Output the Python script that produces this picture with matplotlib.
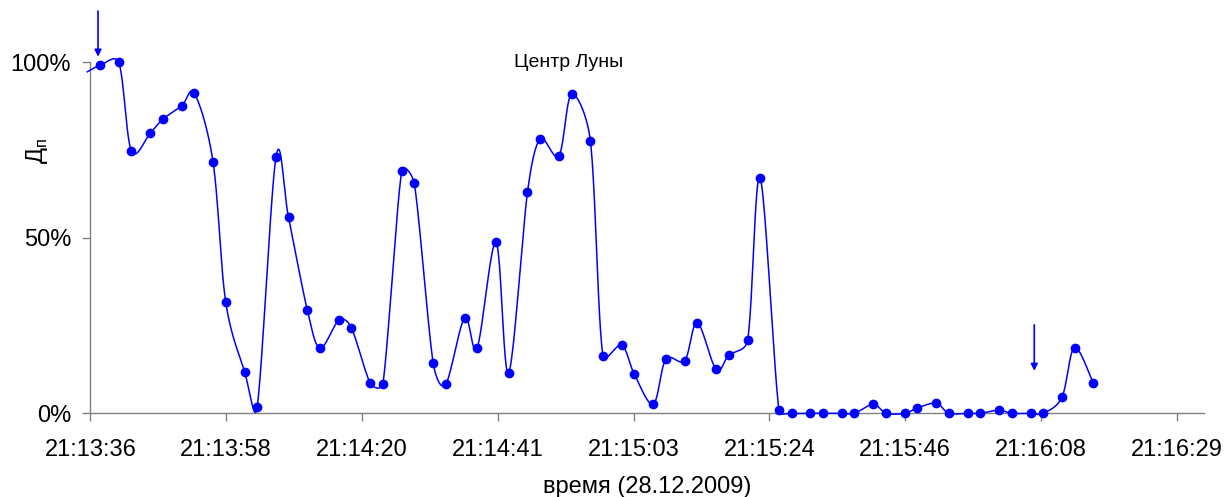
import numpy as np
import matplotlib
matplotlib.use("Agg")
import matplotlib.pyplot as plt
from matplotlib.ticker import FixedLocator, FuncFormatter

plt.rcParams["font.family"] = ["Liberation Sans", "DejaVu Sans"]
plt.rcParams["mathtext.fontset"] = "custom"
plt.rcParams["mathtext.rm"] = "Liberation Sans"

# observation times (28.12.2009) and Dp values, %
times = [
    "21:13:36", "21:13:38", "21:13:41", "21:13:43", "21:13:46", "21:13:48", "21:13:51",
    "21:13:53", "21:13:56", "21:13:58", "21:14:01", "21:14:03", "21:14:06", "21:14:08",
    "21:14:11", "21:14:13", "21:14:16", "21:14:18", "21:14:21", "21:14:23", "21:14:26",
    "21:14:28", "21:14:31", "21:14:33", "21:14:36", "21:14:38", "21:14:41", "21:14:43",
    "21:14:46", "21:14:48", "21:14:51", "21:14:53", "21:14:56", "21:14:58", "21:15:01",
    "21:15:03", "21:15:06", "21:15:08", "21:15:11", "21:15:13", "21:15:16", "21:15:18",
    "21:15:21", "21:15:23", "21:15:26", "21:15:28", "21:15:31", "21:15:33", "21:15:36",
    "21:15:38", "21:15:41", "21:15:43", "21:15:46", "21:15:48", "21:15:51", "21:15:53",
    "21:15:56", "21:15:58", "21:16:01", "21:16:03", "21:16:06", "21:16:08", "21:16:11",
    "21:16:13", "21:16:16",
]
dp_percent = [
    97.3,
    99.1, 100.0, 74.8, 79.8, 83.8, 87.6, 91.3, 71.5, 31.8, 11.9,
    1.7, 73.0, 55.8, 29.3, 18.6, 26.5, 24.3, 8.6, 8.3, 69.1,
    65.5, 14.4, 8.3, 27.2, 18.7, 48.7, 11.5, 63.0, 78.1, 73.4,
    90.9, 77.7, 16.4, 19.4, 11.1, 2.6, 15.4, 15.0, 25.8, 12.5,
    16.5, 20.8, 67.0, 0.8, 0.0, 0.0, 0.0, 0.0, 0.0, 2.6,
    0.0, 0.0, 1.5, 2.9, 0.0, 0.0, 0.0, 0.9, 0.0, 0.0,
    0.0, 4.6, 18.7, 8.5,
]
y_ticks = [0, 50, 100]

# Excel-style axis (in fractions of a day)
x_min_day = 0.88445
x_max_day = 0.8865
major_day = 0.00025

BLUE = "#0000FF"
GREY = "#808080"


def to_seconds(s):
    h, m, sec = (int(v) for v in s.split(":"))
    return h * 3600 + m * 60 + sec


def smooth_line(pts, n=24):
    """Bezier through the points (screen coords), Excel-like smoothing:
    Catmull-Rom tangents, control arm limited to half the chord."""
    p = np.vstack([pts[:1], pts, pts[-1:]])
    s = np.linspace(0, 1, n)[:, None]
    out = []
    for i in range(len(pts) - 1):
        p0, p1, p2, p3 = p[i], p[i + 1], p[i + 2], p[i + 3]
        d12 = np.hypot(*(p2 - p1))
        d02 = np.hypot(*(p2 - p0))
        d13 = np.hypot(*(p3 - p1))
        f1 = min(1 / 6, 0.5 * d12 / d02) if d02 > 0 else 0
        f2 = min(1 / 6, 0.5 * d12 / d13) if d13 > 0 else 0
        c1 = p1 + (p2 - p0) * f1
        c2 = p2 - (p3 - p1) * f2
        seg = ((1 - s) ** 3) * p1 + 3 * ((1 - s) ** 2) * s * c1 \
            + 3 * (1 - s) * s ** 2 * c2 + s ** 3 * p2
        out.append(seg if i == 0 else seg[1:])
    return np.vstack(out)


x = np.array([to_seconds(t) for t in times], dtype=float)
y = np.array(dp_percent, dtype=float)
x_lo = x_min_day * 86400
x_hi = x_max_day * 86400

fig = plt.figure(figsize=(12.26, 4.97), dpi=100)
ax = fig.add_axes([0.0737, 0.1684, 0.9084, 0.7062])
ax.set_xlim(x_lo, x_hi)
ax.set_ylim(0, 100)

screen = ax.transData.transform(np.column_stack([x, y]))
curve = ax.transData.inverted().transform(smooth_line(screen))
ax.plot(curve[:, 0], curve[:, 1], color=BLUE, lw=1.1, clip_on=False, zorder=3)
shown = x >= x_lo
ax.plot(x[shown], y[shown], "o", ls="none", ms=6.0, color=BLUE, clip_on=False, zorder=4)

xt = np.arange(x_min_day, x_max_day + 1e-9, major_day) * 86400
ax.xaxis.set_major_locator(FixedLocator(xt))


def fmt_time(v, pos):
    v = int(round(v))
    return "%d:%02d:%02d" % (v // 3600, (v % 3600) // 60, v % 60)


ax.xaxis.set_major_formatter(FuncFormatter(fmt_time))
ax.set_yticks(y_ticks)
ax.set_yticklabels(["%d%%" % v for v in y_ticks])

for side in ("top", "right"):
    ax.spines[side].set_visible(False)
for side in ("left", "bottom"):
    ax.spines[side].set_color(GREY)
    ax.spines[side].set_linewidth(1.0)
ax.tick_params(direction="out", length=5.8, width=1.0, color=GREY,
               labelsize=17, labelcolor="black")
ax.tick_params(axis="x", pad=13)
ax.tick_params(axis="y", pad=8)

# markers of the event
for xa, y_tail, y_tip in [(76417.7, 114.6, 101.6), (76566.6, 25.2, 12.1)]:
    ax.annotate("", xy=(xa, y_tip), xytext=(xa, y_tail),
                arrowprops=dict(arrowstyle="-|>", color=BLUE, lw=1.2,
                                mutation_scale=10, shrinkA=0, shrinkB=0),
                annotation_clip=False)

ax.text(0.4296, 1.0, "Центр Луны", transform=ax.transAxes,
        ha="center", va="center", fontsize=14)

fig.text(37 / 1226, 1 - 151 / 497, "Д$_{\\mathrm{п}}$", rotation=90,
         ha="center", va="center", fontsize=17)
fig.text(647 / 1226, 1 - 487 / 497, "время (28.12.2009)",
         ha="center", va="center", fontsize=17)

fig.savefig("out.png", dpi=100)
